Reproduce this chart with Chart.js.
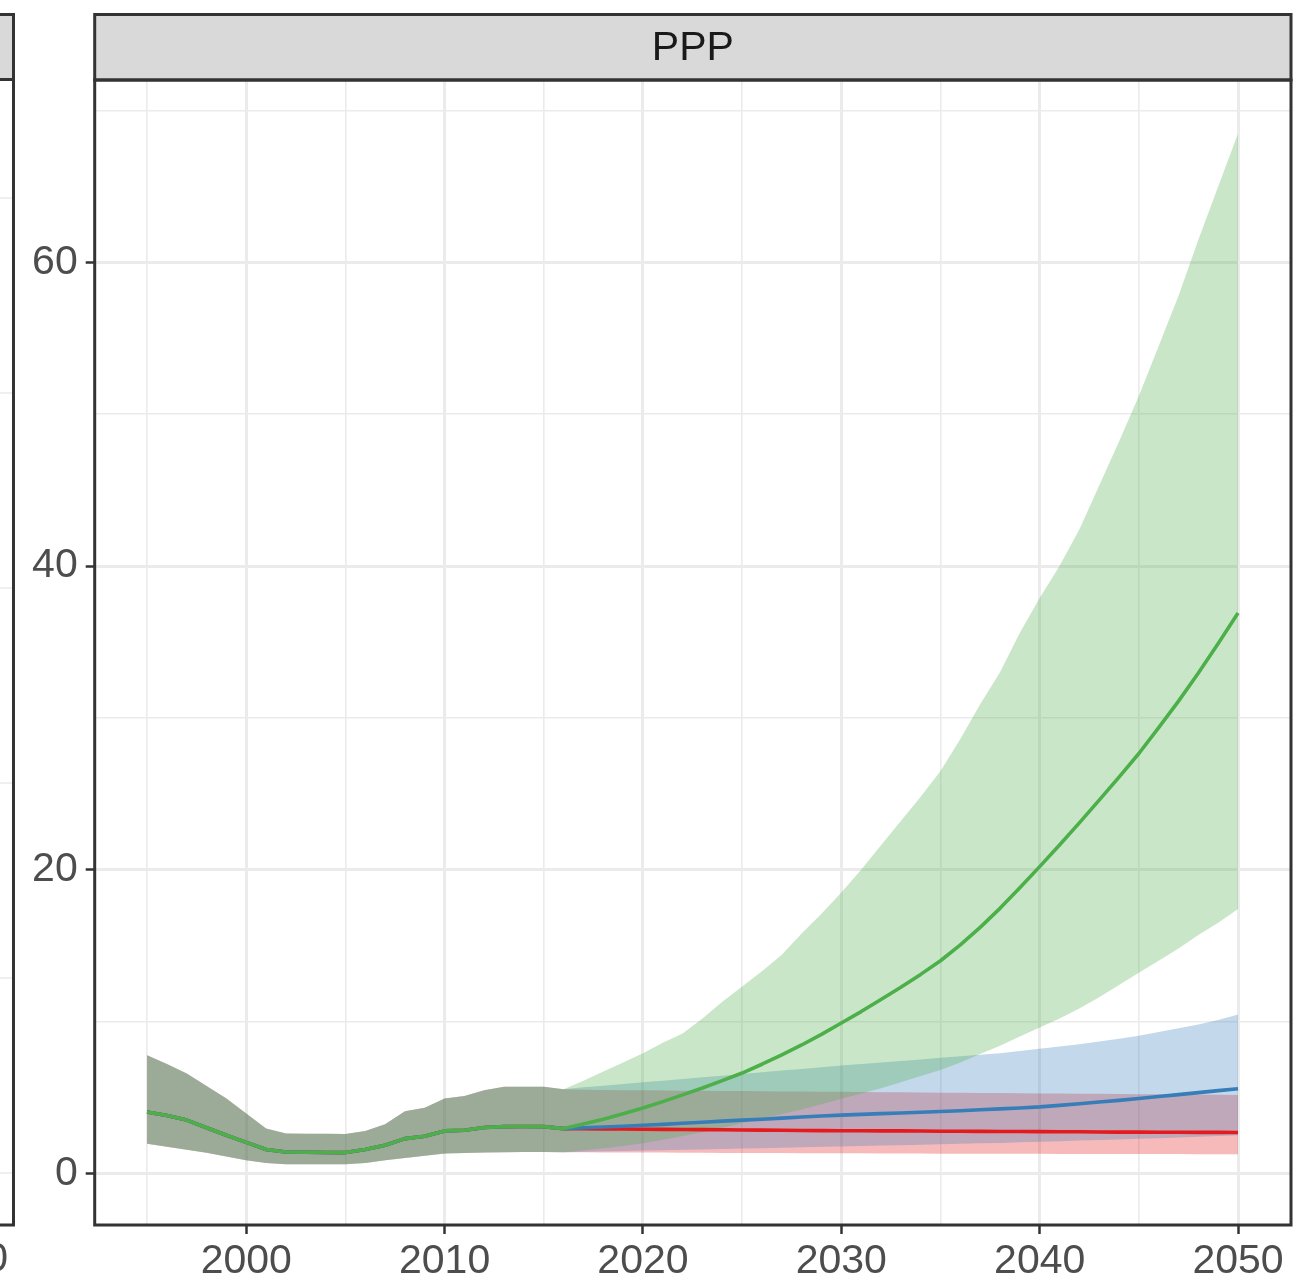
<!DOCTYPE html>
<html><head><meta charset="utf-8">
<script src="https://cdn.jsdelivr.net/npm/chart.js@4.4.1/dist/chart.umd.min.js"></script>
<style>html,body{margin:0;padding:0;background:#fff;overflow:hidden}#wrap{width:1311px;height:1281px;position:relative}</style>
</head><body><div id="wrap"><canvas id="c" width="1311" height="1281"></canvas></div>
<script>
const panelTitle = 'PPP';
const histYears = [1995,1996,1997,1998,1999,2000,2001,2002,2003,2004,2005,2006,2007,2008,2009,2010,2011,2012,2013,2014,2015,2016];
const histMedian = [4.04,3.80,3.50,3.00,2.50,2.03,1.56,1.40,1.38,1.37,1.36,1.56,1.84,2.28,2.44,2.79,2.83,3.01,3.07,3.08,3.07,2.94];
const histUpper  = [7.77,7.20,6.57,5.75,4.92,3.93,2.94,2.61,2.60,2.60,2.59,2.79,3.23,4.08,4.32,4.92,5.09,5.47,5.69,5.69,5.69,5.53];
const histLower  = [1.95,1.75,1.55,1.35,1.10,0.86,0.68,0.60,0.60,0.60,0.60,0.68,0.85,1.01,1.15,1.30,1.33,1.36,1.38,1.40,1.40,1.38];

const projYears = [2017,2018,2019,2020,2021,2022,2023,2024,2025,2026,2027,2028,2029,2030,2031,2032,2033,2034,2035,2036,2037,2038,2039,2040,2041,2042,2043,2044,2045,2046,2047,2048,2049,2050];
const greenMedian = [3.24,3.56,3.92,4.3,4.72,5.16,5.62,6.1,6.6,7.18,7.8,8.45,9.15,9.9,10.65,11.45,12.25,13.1,14.0,15.05,16.2,17.45,18.8,20.2,21.62,23.08,24.58,26.1,27.65,29.35,31.1,32.95,34.9,36.9];
const greenUpper  = [6.1,6.7,7.3,7.9,8.6,9.2,10.2,11.3,12.3,13.3,14.4,15.8,17.1,18.5,20.0,21.6,23.2,24.8,26.5,28.6,30.9,33.0,35.6,37.9,40.0,42.4,45.3,48.2,51.2,54.5,57.8,61.5,65.0,68.5];
const greenLower  = [1.52,1.65,1.8,1.97,2.2,2.45,2.7,3.0,3.3,3.6,3.9,4.2,4.55,4.9,5.25,5.6,6.0,6.4,6.8,7.3,7.85,8.4,9.0,9.6,10.2,10.85,11.6,12.4,13.2,14.0,14.8,15.7,16.5,17.4];
const blueMedian  = [3.0,3.05,3.1,3.16,3.22,3.29,3.36,3.43,3.5,3.56,3.63,3.7,3.77,3.83,3.88,3.93,3.97,4.02,4.07,4.12,4.18,4.24,4.3,4.37,4.47,4.58,4.69,4.8,4.92,5.05,5.18,5.31,5.44,5.57];
const blueUpper   = [5.66,5.77,5.88,5.99,6.1,6.21,6.32,6.43,6.54,6.65,6.76,6.87,6.98,7.1,7.2,7.3,7.4,7.5,7.6,7.7,7.8,7.9,8.05,8.2,8.35,8.5,8.68,8.86,9.05,9.3,9.55,9.8,10.1,10.45];
const blueLower   = [1.42,1.45,1.47,1.5,1.52,1.55,1.57,1.6,1.63,1.65,1.68,1.71,1.74,1.76,1.79,1.82,1.85,1.88,1.91,1.94,1.97,2.0,2.04,2.07,2.11,2.15,2.19,2.23,2.27,2.31,2.36,2.41,2.45,2.5];
const redMedian   = [2.93,2.92,2.91,2.9,2.89,2.88,2.87,2.86,2.85,2.84,2.83,2.82,2.81,2.8,2.8,2.79,2.79,2.78,2.77,2.77,2.76,2.75,2.75,2.74,2.73,2.73,2.72,2.71,2.71,2.7,2.7,2.69,2.69,2.68];
const redUpper    = [5.5,5.48,5.47,5.46,5.45,5.44,5.43,5.42,5.41,5.4,5.39,5.38,5.37,5.36,5.35,5.34,5.33,5.32,5.31,5.3,5.29,5.28,5.27,5.26,5.25,5.24,5.23,5.22,5.21,5.2,5.19,5.18,5.17,5.16];
const redLower    = [1.38,1.37,1.37,1.36,1.36,1.35,1.35,1.34,1.34,1.33,1.33,1.32,1.32,1.31,1.31,1.3,1.3,1.3,1.29,1.29,1.29,1.28,1.28,1.28,1.27,1.27,1.27,1.26,1.26,1.26,1.26,1.25,1.25,1.25];

const xMajorTicks = [2000,2010,2020,2030,2040,2050];
const xMinorTicks = [1995,2005,2015,2025,2035,2045];
const yMajorTicks = [0,20,40,60];
const yMinorTicks = [10,30,50,70];
const leftPanelTickLabel = '2050';

const C = {green:'#4DAF4A', blue:'#377EB8', red:'#E41A1C'};
const A = {green:'rgba(77,175,74,0.3)', blue:'rgba(55,126,184,0.3)', red:'rgba(228,26,28,0.3)'};
const FONT = '"Liberation Sans", Arial, Helvetica, sans-serif';
const FS = 41;

function pts(hist, proj){
  const ys = histYears.concat(projYears), vs = hist.concat(proj);
  return ys.map((x,i)=>({x:x, y:vs[i]}));
}
function lineDs(vals, col, ord){
  return {data:pts(histMedian, vals), borderColor:col, borderWidth:3.6, pointRadius:0, fill:false, tension:0, order:ord, borderJoinStyle:'round', borderCapStyle:'butt'};
}
function bandDs(hist, vals, col, ord, fill){
  return {data:pts(hist, vals), borderColor:'rgba(0,0,0,0)', borderWidth:0, pointRadius:0, backgroundColor:col, fill:fill, tension:0, order:ord};
}

const datasets = [
  lineDs(greenMedian, C.green, 0),
  lineDs(blueMedian, C.blue, 1),
  lineDs(redMedian, C.red, 2),
  bandDs(histUpper, greenUpper, A.green, 3, '+1'),
  bandDs(histLower, greenLower, A.green, 4, false),
  bandDs(histUpper, blueUpper, A.blue, 5, '+1'),
  bandDs(histLower, blueLower, A.blue, 6, false),
  bandDs(histUpper, redUpper, A.red, 7, '+1'),
  bandDs(histLower, redLower, A.red, 8, false)
];

const isMajorX = v => xMajorTicks.includes(v);
const isMajorY = v => yMajorTicks.includes(v);

const decor = {
  id:'decor',
  afterDraw(chart){
    const ctx = chart.ctx, a = chart.chartArea;
    ctx.save();
    // left partial panel
    ctx.strokeStyle = '#EBEBEB'; ctx.lineWidth = 1.6;
    [198,393,588,783,978,1173].forEach(y=>{ctx.beginPath(); ctx.moveTo(0,y); ctx.lineTo(12,y); ctx.stroke();});
    ctx.fillStyle = '#D9D9D9'; ctx.fillRect(-5,14.5,18.5,65);
    ctx.strokeStyle = '#333333'; ctx.lineWidth = 3;
    ctx.beginPath();
    ctx.moveTo(-5,14.5); ctx.lineTo(13.5,14.5); ctx.lineTo(13.5,a.bottom); ctx.lineTo(-5,a.bottom);
    ctx.moveTo(-5,79.5); ctx.lineTo(13.5,79.5);
    ctx.stroke();
    ctx.fillStyle = '#4D4D4D'; ctx.font = FS + 'px ' + FONT; ctx.textAlign = 'right'; ctx.textBaseline = 'alphabetic';
    ctx.fillText(leftPanelTickLabel, 8, 1271);
    // strip
    ctx.fillStyle = '#D9D9D9';
    ctx.fillRect(a.left, 14.5, a.right - a.left, a.top - 14.5);
    ctx.strokeStyle = '#333333'; ctx.lineWidth = 3;
    ctx.strokeRect(a.left, 14.5, a.right - a.left, a.top - 14.5);
    ctx.fillStyle = '#1A1A1A'; ctx.font = FS + 'px ' + FONT; ctx.textAlign = 'center'; ctx.textBaseline = 'middle';
    ctx.fillText(panelTitle, (a.left + a.right)/2, (14.5 + a.top)/2 + 1);
    // panel border
    ctx.strokeStyle = '#333333'; ctx.lineWidth = 3;
    ctx.strokeRect(a.left, a.top, a.right - a.left, a.bottom - a.top);
    ctx.restore();
  }
};

new Chart(document.getElementById('c'), {
  type:'line',
  data:{datasets:datasets},
  options:{
    responsive:false, animation:false, devicePixelRatio:1,
    layout:{padding:{left:0, right:20, top:80, bottom:0}},
    plugins:{legend:{display:false}, tooltip:{enabled:false}, filler:{drawTime:'beforeDatasetsDraw', propagate:false}},
    scales:{
      x:{type:'linear', min:1992.36, max:2052.67,
        afterBuildTicks: s => { s.ticks = xMinorTicks.concat(xMajorTicks).sort((p,q)=>p-q).map(v=>({value:v})); },
        afterFit: s => { s.height = 56; },
        border:{display:false},
        grid:{color:'#EBEBEB', lineWidth: c => isMajorX(c.tick.value) ? 3 : 1.6,
              tickColor: c => isMajorX(c.tick.value) ? '#333333' : 'rgba(0,0,0,0)', tickLength:9, tickWidth:2.5},
        ticks:{autoSkip:false, maxRotation:0, padding:3, color:'#4D4D4D', font:{family:FONT, size:FS},
               callback: v => isMajorX(v) ? String(v) : ''}
      },
      y:{type:'linear', min:-3.41, max:72.02,
        afterBuildTicks: s => { s.ticks = yMinorTicks.concat(yMajorTicks).sort((p,q)=>p-q).map(v=>({value:v})); },
        afterFit: s => { s.width = 94.7; },
        border:{display:false},
        grid:{color:'#EBEBEB', lineWidth: c => isMajorY(c.tick.value) ? 3 : 1.6,
              tickColor: c => isMajorY(c.tick.value) ? '#333333' : 'rgba(0,0,0,0)', tickLength:9, tickWidth:2.5},
        ticks:{autoSkip:false, padding:8, color:'#4D4D4D', font:{family:FONT, size:FS},
               callback: v => isMajorY(v) ? String(v) : ''}
      }
    }
  },
  plugins:[decor]
});
</script></body></html>
